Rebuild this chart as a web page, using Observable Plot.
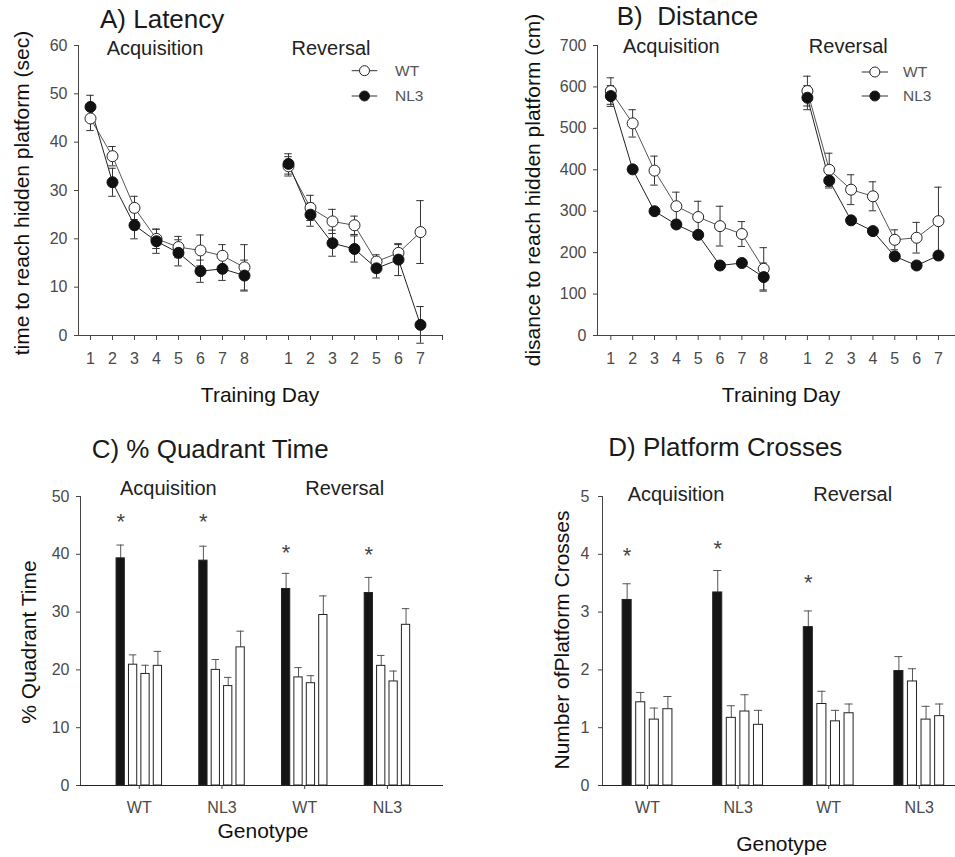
<!DOCTYPE html>
<html><head><meta charset="utf-8">
<script src="https://cdn.jsdelivr.net/npm/d3@7"></script>
<script src="https://cdn.jsdelivr.net/npm/@observablehq/plot@0.6"></script>
<style>
body{margin:0;background:#fff;}
#fig{position:relative;width:955px;height:857px;overflow:hidden;background:#fff;font-family:"Liberation Sans",Arial,sans-serif;}
.t{position:absolute;white-space:pre;line-height:1;}
#fig svg g[aria-label*="tick label"], #fig svg g[aria-label*="tick label"] text{font-size:16px !important;fill:#4a4a4a;}
</style></head><body><div id="fig"></div><script>
// ---------- data ----------
const daysAcq = [1,2,3,4,5,6,7,8];
const daysRev = [1,2,3,4,5,6,7];
const latencyTickLabels = ["1","2","3","4","5","6","7","8","","1","2","3","2","5","6","7",""];
const distanceTickLabels = ["1","2","3","4","5","6","7","8","","1","2","3","4","5","6","7"];

const latWTAcq     = [44.9, 37.1, 26.4, 20.0, 18.3, 17.6, 16.5, 14.1];
const latWTAcqSem  = [2.5, 2.0, 2.4, 2.0, 2.2, 3.2, 2.3, 4.7];
const latNL3Acq    = [47.3, 31.7, 22.8, 19.5, 17.1, 13.3, 13.8, 12.4];
const latNL3AcqSem = [2.4, 2.9, 2.8, 2.5, 2.7, 2.3, 2.4, 3.2];
const latWTRev     = [35.0, 26.4, 23.6, 22.8, 15.3, 17.1, 21.4];
const latWTRevSem  = [2.0, 2.6, 2.5, 1.9, 1.4, 1.7, 6.5];
const latNL3Rev    = [35.5, 25.0, 19.1, 17.9, 13.9, 15.7, 2.2];
const latNL3RevSem = [2.1, 2.4, 2.7, 2.7, 2.0, 3.3, 3.8];

const distWTAcq     = [590, 512, 398, 312, 286, 264, 245, 161];
const distWTAcqSem  = [32, 33, 35, 34, 38, 48, 30, 51];
const distNL3Acq    = [578, 401, 300, 268, 243, 169, 175, 141];
const distNL3AcqSem = [25, 8, 8, 8, 8, 8, 8, 34];
const distWTRev     = [590, 400, 352, 336, 231, 236, 276];
const distWTRevSem  = [36, 40, 36, 35, 24, 37, 82];
const distNL3Rev    = [574, 374, 278, 252, 191, 169, 193];
const distNL3RevSem = [29, 18, 8, 8, 8, 8, 8];

const genotypes = ["WT","NL3","WT","NL3"];
const phases = ["Acquisition","Acquisition","Reversal","Reversal"];

const quadTarget    = [39.3, 38.9, 34.0, 33.3];
const quadTargetSem = [2.3, 2.5, 2.7, 2.7];
const quadOther1    = [20.9, 20.0, 18.7, 20.7];
const quadOther1Sem = [1.7, 1.8, 1.7, 1.8];
const quadOther2    = [19.3, 17.2, 17.7, 18.0];
const quadOther2Sem = [1.5, 1.5, 1.3, 1.8];
const quadOther3    = [20.7, 23.9, 29.5, 27.8];
const quadOther3Sem = [2.5, 2.8, 3.3, 2.8];
const quadStars     = [46.5, 46.5, 41.1, 40.8];

const crossTarget    = [3.21, 3.34, 2.74, 1.98];
const crossTargetSem = [0.28, 0.38, 0.28, 0.25];
const crossOther1    = [1.44, 1.17, 1.41, 1.80];
const crossOther1Sem = [0.17, 0.21, 0.22, 0.22];
const crossOther2    = [1.14, 1.28, 1.11, 1.14];
const crossOther2Sem = [0.20, 0.29, 0.19, 0.23];
const crossOther3    = [1.32, 1.05, 1.25, 1.20];
const crossOther3Sem = [0.22, 0.25, 0.16, 0.21];
const crossStars     = [4.06, 4.18, 3.6, null];

// ---------- helpers ----------
const fig = document.getElementById("fig");
const FONT = '"Liberation Sans", Arial, sans-serif';
const TICKFS = 16;

function addText(s, x, yBase, size, color, align) {
  const d = document.createElement("div");
  d.className = "t";
  d.textContent = s;
  d.style.fontSize = size + "px";
  d.style.color = color;
  d.style.top = (yBase - 0.8465 * size) + "px";
  d.style.left = x + "px";
  if (align === "middle") d.style.transform = "translateX(-50%)";
  fig.appendChild(d);
}
function addVText(s, xBase, yCenter, size, color) {
  const d = document.createElement("div");
  d.className = "t";
  d.textContent = s;
  d.style.fontSize = size + "px";
  d.style.color = color;
  d.style.left = (xBase - 0.3465 * size) + "px";
  d.style.top = yCenter + "px";
  d.style.transform = "translate(-50%,-50%) rotate(-90deg)";
  fig.appendChild(d);
}
function place(svg, left, top) {
  svg.style.position = "absolute";
  svg.style.left = left + "px";
  svg.style.top = top + "px";
  fig.appendChild(svg);
}
function addLegend(x0, x1, yWT, yNL3, textX) {
  const ns = "http://www.w3.org/2000/svg";
  const svg = document.createElementNS(ns, "svg");
  svg.setAttribute("width", 955); svg.setAttribute("height", 857);
  svg.style.position = "absolute"; svg.style.left = "0"; svg.style.top = "0";
  [[yWT, "white"], [yNL3, "#111"]].forEach(([y, f]) => {
    const l = document.createElementNS(ns, "line");
    l.setAttribute("x1", x0); l.setAttribute("x2", x1); l.setAttribute("y1", y); l.setAttribute("y2", y);
    l.setAttribute("stroke", "#333");
    svg.appendChild(l);
    const c = document.createElementNS(ns, "circle");
    c.setAttribute("cx", (x0 + x1) / 2); c.setAttribute("cy", y); c.setAttribute("r", 5);
    c.setAttribute("fill", f); c.setAttribute("stroke", "#222");
    svg.appendChild(c);
  });
  fig.appendChild(svg);
  addText("WT", textX, yWT + 5.5, 15.5, "#555");
  addText("NL3", textX, yNL3 + 5.5, 15.5, "#555");
}

function rows(series, phase, days, vals, sems, shift) {
  return days.map((d, i) => ({series, phase, pos: d + shift, value: vals[i], sem: sems[i]}));
}

function linePanel({data, xDomain, tickLabels, yDomain, yTicks, width, height, margins}) {
  const wt = data.filter(d => d.series === "WT");
  const nl = data.filter(d => d.series === "NL3");
  const cap = 0.17;
  return Plot.plot({
    width, height, ...margins,
    x: {domain: xDomain},
    y: {domain: yDomain},
    style: {fontFamily: FONT, fontSize: "16px", color: "#444", background: "transparent", overflow: "visible"},
    marks: [
      Plot.ruleY([yDomain[0]], {stroke: "#444"}),
      Plot.ruleX([xDomain[0]], {stroke: "#444"}),
      Plot.axisX({ticks: d3.range(1, tickLabels.length + 1), tickFormat: p => tickLabels[p - 1], tickSize: 5, tickPadding: 12, label: null, fontSize: TICKFS}),
      Plot.axisY({ticks: yTicks, tickFormat: d3.format("d"), tickSize: 4, tickPadding: 7, label: null, fontSize: TICKFS}),
      Plot.ruleX(data, {x: "pos", y1: d => d.value - d.sem, y2: d => d.value + d.sem, stroke: "#333"}),
      Plot.ruleY(data, {y: d => d.value + d.sem, x1: d => d.pos - cap, x2: d => d.pos + cap, stroke: "#333"}),
      Plot.ruleY(data, {y: d => d.value - d.sem, x1: d => d.pos - cap, x2: d => d.pos + cap, stroke: "#333"}),
      Plot.line(wt, {x: "pos", y: "value", z: "phase", stroke: "#555", strokeWidth: 1}),
      Plot.line(nl, {x: "pos", y: "value", z: "phase", stroke: "#222", strokeWidth: 1}),
      Plot.dot(wt, {x: "pos", y: "value", r: 5.5, fill: "white", stroke: "#222", strokeWidth: 1}),
      Plot.dot(nl, {x: "pos", y: "value", r: 5.5, fill: "#111", stroke: "#111", strokeWidth: 1})
    ]
  });
}

function barRows(quads, stars) {
  const out = [];
  quads.forEach(([vals, sems], q) => {
    vals.forEach((v, g) => out.push({g: g + 1, q, pos: g + 1 + (q - 1.5) * 0.15, value: v, sem: sems[g]}));
  });
  const starRows = stars.map((s, g) => ({pos: g + 1 - 1.5 * 0.15, star: s})).filter(d => d.star != null);
  return {out, starRows};
}

function barPanel({quads, stars, xDomain, yDomain, yTicks, width, height, margins, tickPaddingY}) {
  const {out, starRows} = barRows(quads, stars);
  const hw = 0.05, cap = 0.045;
  return Plot.plot({
    width, height, ...margins,
    x: {domain: xDomain},
    y: {domain: yDomain},
    style: {fontFamily: FONT, fontSize: "16px", color: "#444", background: "transparent", overflow: "visible"},
    marks: [
      Plot.ruleX(out, {x: "pos", y1: "value", y2: d => d.value + d.sem, stroke: "#555"}),
      Plot.ruleY(out, {y: d => d.value + d.sem, x1: d => d.pos - cap, x2: d => d.pos + cap, stroke: "#555"}),
      Plot.rectY(out.filter(d => d.q === 0), {x1: d => d.pos - hw, x2: d => d.pos + hw, y1: 0, y2: "value", fill: "#151515", stroke: "#222"}),
      Plot.rectY(out.filter(d => d.q > 0), {x1: d => d.pos - hw, x2: d => d.pos + hw, y1: 0, y2: "value", fill: "white", stroke: "#222"}),
      Plot.ruleY([yDomain[0]], {stroke: "#222"}),
      Plot.ruleX([xDomain[0]], {stroke: "#444"}),
      Plot.axisX({ticks: [1, 2, 3, 4], tickFormat: i => genotypes[i - 1], tickSize: 4, tickPadding: 12, label: null, fontSize: TICKFS}),
      Plot.axisY({ticks: yTicks, tickFormat: d3.format("d"), tickSize: 4, tickPadding: tickPaddingY, label: null, fontSize: TICKFS}),
      Plot.text(starRows, {x: "pos", y: "star", text: () => "*", fontSize: 22, fill: "#444", dy: 5.5})
    ]
  });
}

// ---------- Panel A ----------
const latData = [
  ...rows("WT", "Acq", daysAcq, latWTAcq, latWTAcqSem, 0),
  ...rows("NL3", "Acq", daysAcq, latNL3Acq, latNL3AcqSem, 0),
  ...rows("WT", "Rev", daysRev, latWTRev, latWTRevSem, 9),
  ...rows("NL3", "Rev", daysRev, latNL3Rev, latNL3RevSem, 9)
];
place(linePanel({
  data: latData, xDomain: [0.455, 17], tickLabels: latencyTickLabels,
  yDomain: [0, 60], yTicks: d3.range(0, 61, 10),
  width: 480, height: 420, margins: {marginLeft: 78, marginRight: 38, marginTop: 45, marginBottom: 85}
}), 0, 0);

// ---------- Panel B ----------
const distData = [
  ...rows("WT", "Acq", daysAcq, distWTAcq, distWTAcqSem, 0),
  ...rows("NL3", "Acq", daysAcq, distNL3Acq, distNL3AcqSem, 0),
  ...rows("WT", "Rev", daysRev, distWTRev, distWTRevSem, 9),
  ...rows("NL3", "Rev", daysRev, distNL3Rev, distNL3RevSem, 9)
];
place(linePanel({
  data: distData, xDomain: [0.39, 16.78], tickLabels: distanceTickLabels,
  yDomain: [0, 700], yTicks: d3.range(0, 701, 100),
  width: 475, height: 420, margins: {marginLeft: 117, marginRight: 0, marginTop: 45, marginBottom: 85}
}), 480, 0);

// ---------- Panel C ----------
place(barPanel({
  quads: [[quadTarget, quadTargetSem], [quadOther1, quadOther1Sem], [quadOther2, quadOther2Sem], [quadOther3, quadOther3Sem]],
  stars: quadStars, xDomain: [0.289, 4.678], yDomain: [0, 50], yTicks: d3.range(0, 51, 10),
  width: 480, height: 427, margins: {marginLeft: 80, marginRight: 37, marginTop: 66, marginBottom: 72}, tickPaddingY: 7
}), 0, 430);

// ---------- Panel D ----------
place(barPanel({
  quads: [[crossTarget, crossTargetSem], [crossOther1, crossOther1Sem], [crossOther2, crossOther2Sem], [crossOther3, crossOther3Sem]],
  stars: crossStars, xDomain: [0.503, 4.40], yDomain: [0, 5], yTicks: d3.range(0, 6, 1),
  width: 475, height: 427, margins: {marginLeft: 122, marginRight: 0, marginTop: 66, marginBottom: 72}, tickPaddingY: 9
}), 480, 430);

// ---------- texts ----------
addText("A) Latency", 100, 28.3, 26, "#1a1a1a");
addText("B)  Distance", 616.7, 25, 26, "#1a1a1a");
addText("C) % Quadrant Time", 91.7, 458.3, 26, "#1a1a1a");
addText("D) Platform Crosses", 608.3, 456, 26, "#1a1a1a");

addText("Acquisition", 155, 55, 20, "#222", "middle");
addText("Reversal", 331, 55, 20, "#222", "middle");
addText("Acquisition", 671.3, 53, 20, "#222", "middle");
addText("Reversal", 848.3, 53, 20, "#222", "middle");
addText("Acquisition", 168.3, 495, 20, "#222", "middle");
addText("Reversal", 344.7, 495, 20, "#222", "middle");
addText("Acquisition", 676, 500.7, 20, "#222", "middle");
addText("Reversal", 852.7, 500.7, 20, "#222", "middle");

addVText("time to reach hidden platform (sec)", 28, 192.5, 21, "#111");
addVText("disance to reach hidden platform (cm)", 539, 190, 21, "#111");
addVText("% Quadrant Time", 35, 641.7, 21, "#111");
addVText("Number ofPlatform Crosses", 568, 640, 21, "#111");

addText("Training Day", 260, 401.7, 21, "#111", "middle");
addText("Training Day", 781, 401.7, 21, "#111", "middle");
addText("Genotype", 263, 838, 21, "#111", "middle");
addText("Genotype", 781.7, 850.7, 21, "#111", "middle");

addLegend(351.7, 377.3, 70.7, 96, 395);
addLegend(861.7, 888, 72, 96, 903);
</script></body></html>
